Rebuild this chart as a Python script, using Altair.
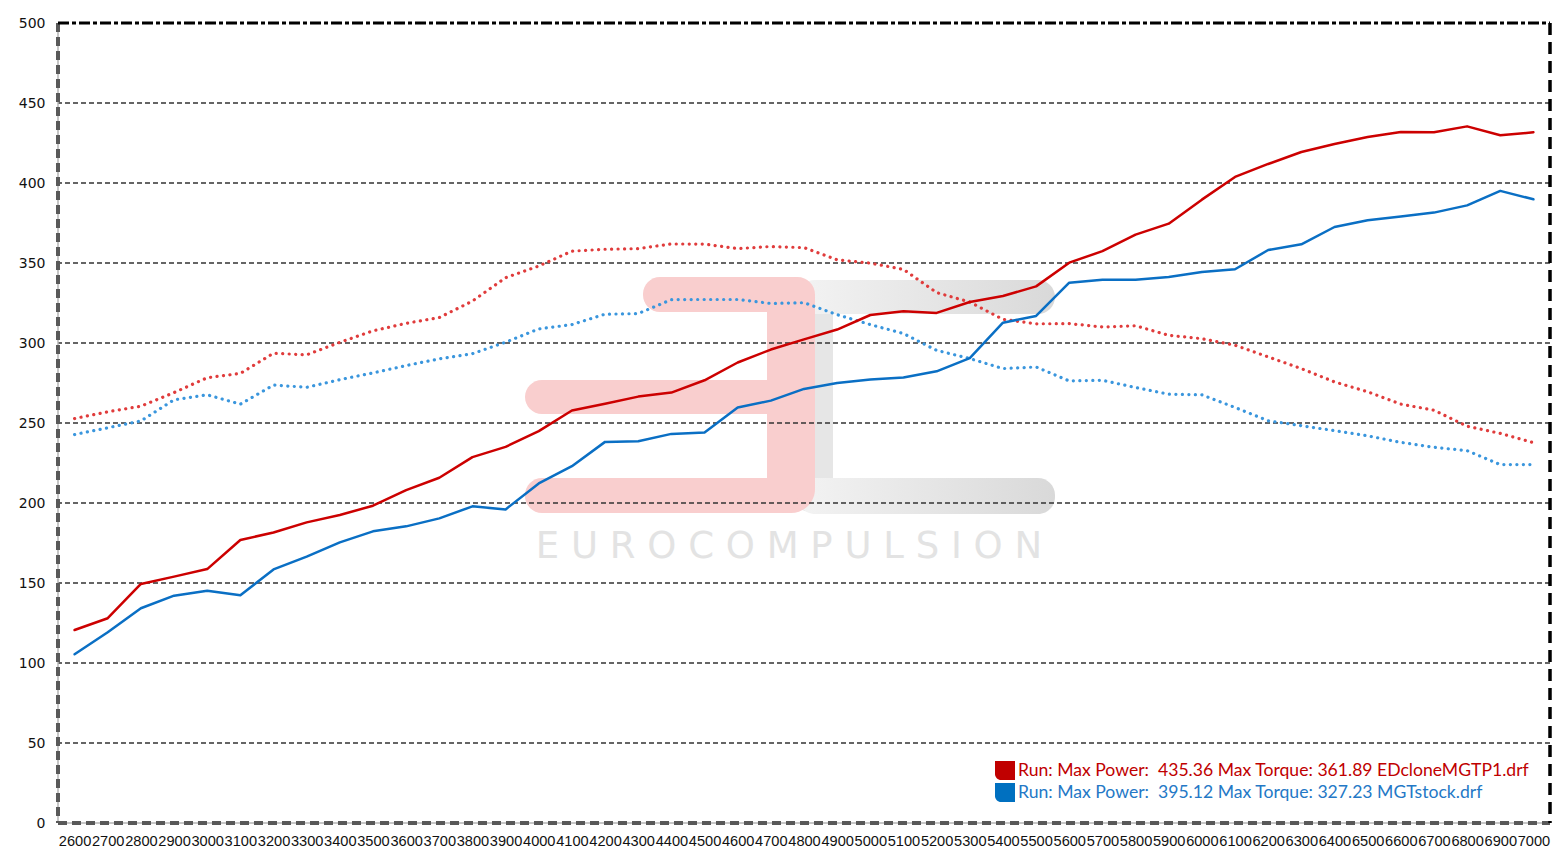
import altair as alt
import pandas as pd

# ---------------- data ----------------
rpm = ["2600", "2700", "2800", "2900", "3000", "3100", "3200", "3300", "3400", "3500",
       "3600", "3700", "3800", "3900", "4000", "4100", "4200", "4300", "4400", "4500",
       "4600", "4700", "4800", "4900", "5000", "5100", "5200", "5300", "5400", "5500",
       "5600", "5700", "5800", "5900", "6000", "6100", "6200", "6300", "6400", "6500",
       "6600", "6700", "6800", "6900", "7000"]

red_power = [120.6, 128.0, 149.4, 154.0, 158.7, 176.9, 181.6, 187.9, 192.5, 198.3,
             208.0, 215.8, 228.7, 235.1, 244.9, 257.8, 262.0, 266.5, 269.0, 276.7,
             287.8, 295.9, 302.3, 308.4, 317.5, 319.8, 318.8, 325.6, 329.4, 335.4,
             350.2, 357.4, 367.7, 374.6, 389.6, 403.8, 411.9, 419.4, 424.4, 428.8,
             431.9, 431.7, 435.4, 429.8, 431.7]

blue_power = [105.5, 119.2, 134.2, 142.1, 145.2, 142.3, 158.5, 166.5, 175.4, 182.3,
              185.4, 190.4, 197.9, 196.0, 212.2, 223.0, 238.2, 238.6, 243.2, 244.0,
              259.7, 264.0, 271.3, 275.0, 277.2, 278.4, 282.3, 290.6, 312.7, 316.9,
              337.7, 339.6, 339.6, 341.3, 344.4, 346.1, 358.1, 361.7, 372.5, 376.7,
              379.0, 381.5, 386.0, 395.1, 389.8]

red_torque = [252.8, 257.0, 260.5, 269.0, 278.3, 281.0, 293.6, 292.6, 300.4, 307.6,
              312.3, 315.9, 326.2, 340.8, 348.1, 357.4, 358.6, 359.0, 361.9, 361.8,
              359.0, 360.3, 359.6, 352.0, 349.9, 346.0, 331.5, 325.6, 314.8, 312.0,
              312.1, 310.0, 310.8, 304.8, 302.7, 298.6, 291.3, 284.0, 275.7, 269.5,
              261.8, 258.0, 248.0, 243.5, 237.7]

blue_torque = [242.8, 247.0, 251.3, 264.5, 267.6, 261.8, 273.7, 272.3, 277.1, 281.3,
               285.9, 290.1, 293.3, 300.5, 308.8, 311.5, 318.0, 318.4, 327.1, 327.2,
               327.2, 324.7, 325.2, 317.7, 311.5, 305.9, 295.4, 290.3, 284.0, 285.0,
               276.3, 276.7, 272.2, 268.0, 267.6, 259.7, 251.4, 248.3, 245.2, 242.0,
               237.9, 234.8, 232.7, 224.0, 224.0]

y_ticks = [0, 50, 100, 150, 200, 250, 300, 350, 400, 450, 500]
grid_values = [50, 100, 150, 200, 250, 300, 350, 400, 450]

legend_labels = ["Run: Max Power:\u00a0 435.36 Max Torque: 361.89 EDcloneMGTP1.drf",
                 "Run: Max Power:\u00a0 395.12 Max Torque: 327.23 MGTstock.drf"]
legend_text_colors = ["#C00000", "#2478C6"]
legend_swatch_colors = ["#C00000", "#0070C0"]
watermark_text = "E U R O C O M P U L S I O N"

# ---------------- chart ----------------
W, H = 1492, 800
one = pd.DataFrame({"k": [0]})

yscale = alt.Scale(domain=[0, 500], nice=False, zero=True)
yaxis = alt.Axis(values=y_ticks, grid=False, domain=False, ticks=False,
                 labelFont="DejaVu Sans", labelFontSize=14, labelColor="#111111",
                 labelPadding=13)
xscale = alt.Scale(domain=rpm, padding=0.5)
xaxis = alt.Axis(labelAngle=0, labelOverlap=False, domain=False, ticks=False, grid=False,
                 labelFont="Liberation Sans", labelFontSize=14.6, labelPadding=10,
                 labelColor="#111111", labelBound=False, labelFlush=False)

y_enc = alt.Y("value:Q", scale=yscale, axis=yaxis, title=None)
x_enc = alt.X("rpm:O", scale=xscale, axis=xaxis, title=None)


def series_df(vals):
    return pd.DataFrame({"rpm": rpm, "value": vals})


def line(vals, color, width, dash=None):
    kw = dict(color=color, strokeWidth=width, strokeCap="round", strokeJoin="round")
    if dash is not None:
        kw["strokeDash"] = dash
    return alt.Chart(series_df(vals)).mark_line(**kw).encode(x=x_enc, y=y_enc)


def box(x1, x2, y1, y2, fill, **radius):
    return alt.Chart(one).mark_rect(fill=fill, **radius).encode(
        x=alt.value(x1), x2=alt.value(x2), y=alt.value(y1), y2=alt.value(y2))


grey_grad = alt.LinearGradient(
    gradient="linear",
    stops=[alt.GradientStop(color="#F3F3F3", offset=0),
           alt.GradientStop(color="#D9D9D9", offset=1)],
    x1=0, x2=1, y1=0, y2=0)
pink = "#F9CECE"

# watermark (page coords minus plot origin 58,23)
wm = [
    box(732, 775, 259, 489, "#E6E6E6", cornerRadiusTopLeft=40, cornerRadiusBottomLeft=40),
    box(740, 997, 257, 291, grey_grad, cornerRadiusTopRight=17, cornerRadiusBottomRight=17,
        cornerRadiusTopLeft=17),
    box(740, 997, 455, 491, grey_grad, cornerRadiusTopRight=17, cornerRadiusBottomRight=17,
        cornerRadiusBottomLeft=17),
    box(585, 757, 254, 289, pink, cornerRadiusTopLeft=17, cornerRadiusBottomLeft=17,
        cornerRadiusTopRight=45),
    box(709, 757, 254, 490, pink, cornerRadiusTopRight=45, cornerRadiusBottomRight=45),
    box(467, 732, 357, 391, pink, cornerRadiusTopLeft=17, cornerRadiusBottomLeft=17),
    box(467, 740, 455, 490, pink, cornerRadiusTopLeft=17, cornerRadiusBottomLeft=17,
        cornerRadiusBottomRight=30),
    alt.Chart(one).mark_text(font="DejaVu Sans", fontSize=37, color="#E3E3E3",
                             align="center", baseline="middle").encode(
        x=alt.value(731), y=alt.value(524), text=alt.value(watermark_text)),
]

grid = alt.Chart(pd.DataFrame({"value": grid_values})).mark_rule(
    color="#333333", strokeWidth=1.3, strokeDash=[5, 3]).encode(y=y_enc)

thin_left = alt.Chart(one).mark_rule(color="#B5B5B5", strokeWidth=1.5).encode(
    x=alt.value(0), y=alt.value(0), y2=alt.value(H))
thin_bottom = alt.Chart(one).mark_rule(color="#B5B5B5", strokeWidth=1.5).encode(
    x=alt.value(0), x2=alt.value(W), y=alt.value(H))
dash_left = alt.Chart(one).mark_rule(color="#595959", strokeWidth=4, strokeDash=[9, 5]).encode(
    x=alt.value(0), y=alt.value(0), y2=alt.value(H))
dash_bottom = alt.Chart(one).mark_rule(color="#595959", strokeWidth=4, strokeDash=[9, 5]).encode(
    x=alt.value(0), x2=alt.value(W), y=alt.value(H))
top_border = alt.Chart(one).mark_rule(color="#000000", strokeWidth=3, strokeDash=[11, 3, 4, 3]).encode(
    x=alt.value(0), x2=alt.value(W), y=alt.value(0))
right_border = alt.Chart(one).mark_rule(color="#000000", strokeWidth=3.5, strokeDash=[12, 7]).encode(
    x=alt.value(W), y=alt.value(0), y2=alt.value(H))

lines = [
    line(blue_torque, "#3A96DD", 3.2, [0.1, 6.4]),
    line(red_torque, "#E03C3C", 3.2, [0.1, 6.4]),
    line(blue_power, "#0A6FC4", 2.5),
    line(red_power, "#CC0000", 2.5),
]

legend = []
for i, (lab, tc, sc) in enumerate(zip(legend_labels, legend_text_colors, legend_swatch_colors)):
    y0 = 738 + 22 * i
    legend.append(box(937, 957, y0, y0 + 19, sc, cornerRadiusBottomLeft=6))
    legend.append(alt.Chart(one).mark_text(font="Lato", fontSize=17.6, color=tc, align="left",
                                           baseline="middle").encode(
        x=alt.value(960), y=alt.value(y0 + 10), text=alt.value(lab)))

chart = alt.layer(
    *wm, grid, thin_left, thin_bottom, dash_left, dash_bottom, *lines,
    top_border, right_border, *legend
).properties(
    width=W, height=H,
    autosize=alt.AutoSizeParams(type="none"),
    padding={"left": 50, "top": 15, "right": 9, "bottom": 26},
    background="#FFFFFF",
).configure_view(stroke=None)

chart.save("out.html", embed_options={"renderer": "svg", "actions": False})
